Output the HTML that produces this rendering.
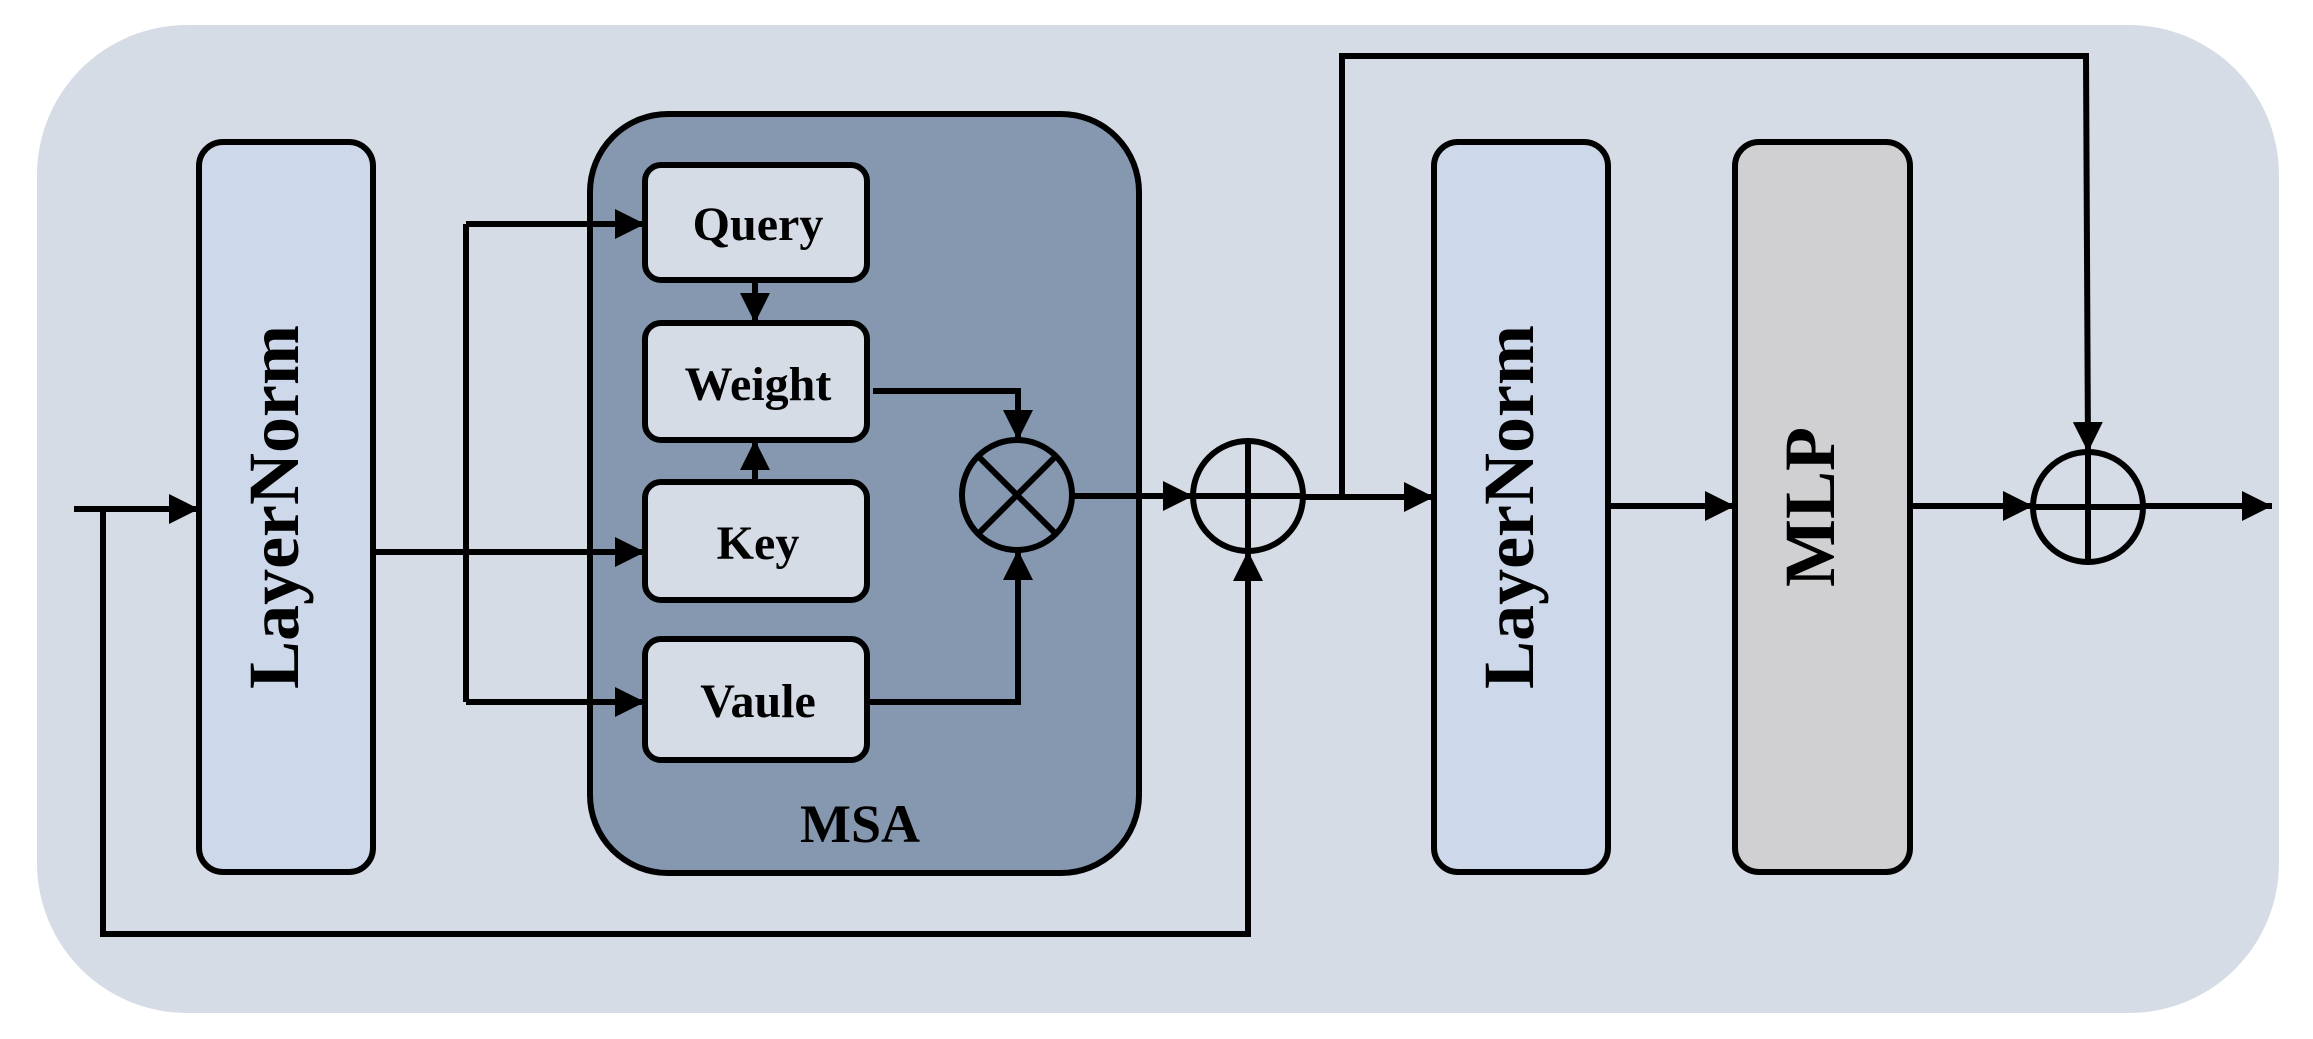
<!DOCTYPE html>
<html><head><meta charset="utf-8"><style>html,body{margin:0;padding:0;background:#fff}svg{display:block}</style></head>
<body>
<svg width="2313" height="1039" viewBox="0 0 2313 1039" xmlns="http://www.w3.org/2000/svg" font-family="Liberation Serif, serif" font-weight="bold">
<defs>
<marker id="a" viewBox="0 0 10 10" refX="10" refY="5" markerWidth="5" markerHeight="5" markerUnits="strokeWidth" orient="auto"><path d="M0,0L10,5L0,10z" fill="#000"/></marker>
</defs>
<rect x="37" y="25" width="2242" height="988" rx="150" fill="#d5dce6"/>
<g stroke="#000" stroke-width="6">
<rect x="199" y="142" width="174" height="730" rx="24" fill="#cdd9ea"/>
<rect x="590" y="114" width="549" height="759" rx="78" fill="#8598b0"/>
<rect x="645" y="165" width="222" height="115" rx="16" fill="#d5dce6"/>
<rect x="645" y="323" width="222" height="117" rx="16" fill="#d5dce6"/>
<rect x="645" y="482" width="222" height="118" rx="16" fill="#d5dce6"/>
<rect x="645" y="639" width="222" height="121" rx="16" fill="#d5dce6"/>
<rect x="1434" y="142" width="174" height="730" rx="24" fill="#cdd9ea"/>
<rect x="1735" y="142" width="175" height="730" rx="24" fill="#d0cfd1"/>
<circle cx="1017" cy="495" r="55" fill="none"/>
<line x1="978" y1="456" x2="1056" y2="534"/><line x1="1056" y1="456" x2="978" y2="534"/>
<circle cx="1248" cy="496" r="55" fill="none"/>
<line x1="1193" y1="496" x2="1303" y2="496"/><line x1="1248" y1="441" x2="1248" y2="551"/>
<circle cx="2088" cy="507" r="55" fill="none"/>
<line x1="2033" y1="507" x2="2143" y2="507"/><line x1="2088" y1="452" x2="2088" y2="562"/>
<g fill="none">
<line x1="74" y1="509" x2="199" y2="509" marker-end="url(#a)"/>
<polyline points="103,509 103,934 1248,934 1248,551" marker-end="url(#a)"/>
<line x1="373" y1="552" x2="645" y2="552" marker-end="url(#a)"/>
<polyline points="466,224 466,702"/>
<line x1="466" y1="224" x2="645" y2="224" marker-end="url(#a)"/>
<line x1="466" y1="702" x2="645" y2="702" marker-end="url(#a)"/>
<line x1="755" y1="280" x2="755" y2="323" marker-end="url(#a)"/>
<line x1="755" y1="482" x2="755" y2="440" marker-end="url(#a)"/>
<polyline points="873,391 1018,391 1018,440" marker-end="url(#a)"/>
<polyline points="867,702 1018,702 1018,550" marker-end="url(#a)"/>
<line x1="1072" y1="496" x2="1193" y2="496" marker-end="url(#a)"/>
<line x1="1303" y1="497" x2="1434" y2="497" marker-end="url(#a)"/>
<polyline points="1342,497 1342,56 2086,56 2088,452" marker-end="url(#a)"/>
<line x1="1608" y1="506" x2="1735" y2="506" marker-end="url(#a)"/>
<line x1="1910" y1="506" x2="2033" y2="506" marker-end="url(#a)"/>
<line x1="2143" y1="506" x2="2272" y2="506" marker-end="url(#a)"/>
</g>
</g>
<g fill="#000" text-anchor="middle">
<text x="758" y="240" font-size="48">Query</text>
<text x="758" y="400" font-size="48">Weight</text>
<text x="758" y="559" font-size="48">Key</text>
<text x="758" y="717" font-size="48">Vaule</text>
<text x="860" y="842" font-size="54">MSA</text>
<text transform="translate(298,507) rotate(-90)" font-size="72">LayerNorm</text>
<text transform="translate(1533,507) rotate(-90)" font-size="72">LayerNorm</text>
<text transform="translate(1834,507) rotate(-90)" font-size="72">MLP</text>
</g>
</svg>
</body></html>
